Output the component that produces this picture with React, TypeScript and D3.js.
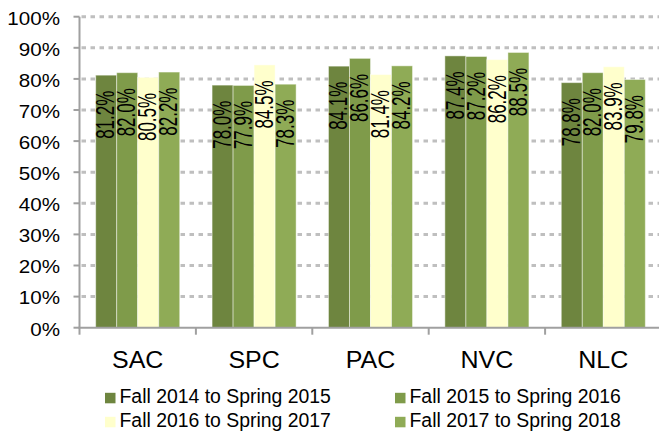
import React from "react";
import * as d3 from "d3";

const categories = ["SAC", "SPC", "PAC", "NVC", "NLC"];
const seriesNames = [
  "Fall 2014 to Spring 2015",
  "Fall 2015 to Spring 2016",
  "Fall 2016 to Spring 2017",
  "Fall 2017 to Spring 2018",
];
const s2015 = [81.2, 78.0, 84.1, 87.4, 78.8];
const s2016 = [82.0, 77.9, 86.6, 87.2, 82.0];
const s2017 = [80.5, 84.5, 81.4, 86.2, 83.9];
const s2018 = [82.2, 78.3, 84.2, 88.5, 79.8];
const seriesValues = [s2015, s2016, s2017, s2018];
const colors = ["#6e853f", "#7f9b4a", "#ffffcc", "#8fab56"];
const yTicks = [0, 10, 20, 30, 40, 50, 60, 70, 80, 90, 100];

const W = 659;
const H = 435;
const FONT = "'Liberation Sans', Arial, sans-serif";

export default function App() {
  const left = 79.5;
  const right = 661.5;
  const top = 16.7;
  const bottom = 327.7;

  const x = d3
    .scaleBand<string>()
    .domain(categories)
    .range([left, right])
    .paddingInner(0.278)
    .paddingOuter(0.139);
  const xi = d3
    .scaleBand<number>()
    .domain(seriesNames.map((_, i) => i))
    .range([0, x.bandwidth()]);
  const y = d3.scaleLinear().domain([0, 100]).range([bottom, top]);
  const step = x.step();

  return (
    <svg
      width={W}
      height={H}
      style={{ position: "absolute", left: 0, top: 0, background: "#fff" }}
      fontFamily={FONT}
    >
      {/* gridlines */}
      {yTicks
        .filter((t) => t > 0)
        .map((t) => (
          <line
            key={"g" + t}
            x1={left + 2}
            x2={W}
            y1={y(t)}
            y2={y(t)}
            stroke="#bfbfbf"
            strokeWidth={3}
            strokeDasharray="4.5 4.5"
          />
        ))}
      {/* bars */}
      {categories.map((c, ci) => (
        <g key={c} transform={`translate(${x(c)},0)`}>
          {seriesValues.map((vals, si) => (
            <rect
              key={si}
              x={xi(si)}
              y={y(vals[ci])}
              width={xi.bandwidth()}
              height={bottom - y(vals[ci])}
              fill={colors[si]}
              stroke="rgba(255,255,255,0.45)"
              strokeWidth={1}
            />
          ))}
        </g>
      ))}
      {/* bar labels */}
      {categories.map((c, ci) =>
        seriesValues.map((vals, si) => {
          const cx = (x(c) as number) + (xi(si) as number) + xi.bandwidth() / 2;
          const ty = y(vals[ci]) + 15.5;
          return (
            <text
              key={c + si}
              transform={`translate(${cx},${ty}) rotate(-90) scale(0.68,1)`}
              textAnchor="end"
              dominantBaseline="central"
              fontSize={25}
              fill="#000"
            >
              {vals[ci].toFixed(1) + "%"}
            </text>
          );
        })
      )}
      {/* y axis */}
      <line x1={left} x2={left} y1={top} y2={bottom} stroke="#a0a0a0" strokeWidth={2} />
      {yTicks.map((t) => (
        <g key={"y" + t}>
          <line x1={left - 6} x2={left} y1={y(t)} y2={y(t)} stroke="#a0a0a0" strokeWidth={2} />
          <text
            transform={`translate(60,${y(t) + 7.8}) scale(1,0.87)`}
            textAnchor="end"
            fontSize={20.6}
            fill="#000"
          >
            {t + "%"}
          </text>
        </g>
      ))}
      {/* x axis */}
      <line x1={left - 1} x2={W} y1={bottom} y2={bottom} stroke="#a0a0a0" strokeWidth={2} />
      {d3.range(categories.length + 1).map((i) => (
        <line
          key={"xt" + i}
          x1={left + i * step}
          x2={left + i * step}
          y1={bottom}
          y2={bottom + 7}
          stroke="#a0a0a0"
          strokeWidth={2}
        />
      ))}
      {categories.map((c) => (
        <text
          key={"xl" + c}
          transform={`translate(${(x(c) as number) + x.bandwidth() / 2},367.7) scale(1,0.95)`}
          textAnchor="middle"
          fontSize={25}
          fill="#000"
        >
          {c}
        </text>
      ))}
      {/* legend */}
      {seriesNames.map((n, i) => {
        const lx = i % 2 === 0 ? 105 : 395;
        const ly = i < 2 ? 403.3 : 427.3;
        return (
          <g key={"lg" + i}>
            <rect x={lx} y={ly - 10.5} width={10.5} height={10.5} fill={colors[i]} />
            <text x={lx + 14.5} y={ly} fontSize={19.4} fill="#000">
              {n}
            </text>
          </g>
        );
      })}
    </svg>
  );
}
